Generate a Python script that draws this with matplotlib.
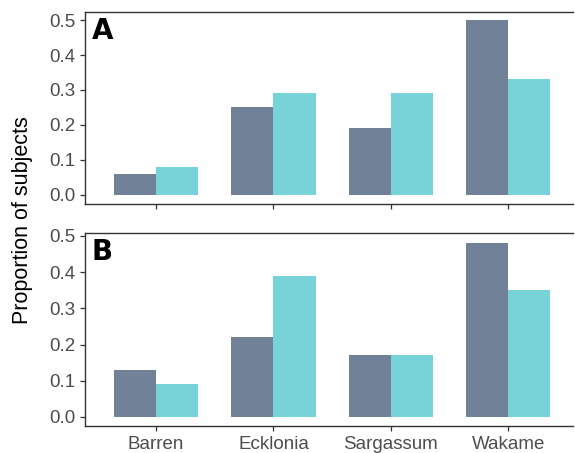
import numpy as np
from matplotlib import pyplot as plt

plt.rcParams['font.family'] = ['Liberation Sans', 'DejaVu Sans']

categories = ['Barren', 'Ecklonia', 'Sargassum', 'Wakame']
panel_a_grey = [0.06, 0.25, 0.19, 0.50]
panel_a_cyan = [0.08, 0.29, 0.29, 0.33]
panel_b_grey = [0.13, 0.22, 0.17, 0.48]
panel_b_cyan = [0.09, 0.39, 0.17, 0.35]

grey = '#708198'
cyan = '#78D3D8'
text_grey = '#4D4D4D'
spine_col = '#333333'

fig = plt.figure(figsize=(5.75, 4.53), dpi=100)
ax_a = fig.add_axes([0.148, 0.5497, 0.849, 0.4238])
ax_b = fig.add_axes([0.148, 0.0596, 0.849, 0.4261])

x = np.arange(len(categories))
w = 0.36


def draw_panel(ax, grey_vals, cyan_vals, letter, ylim):
    ax.bar(x - w / 2, grey_vals, width=w, color=grey)
    ax.bar(x + w / 2, cyan_vals, width=w, color=cyan)
    ax.set_xlim(-0.605, 3.555)
    ax.set_ylim(*ylim)
    ax.set_yticks([0, 0.1, 0.2, 0.3, 0.4, 0.5])
    ax.set_yticklabels(['0.0', '0.1', '0.2', '0.3', '0.4', '0.5'])
    ax.set_xticks(x)
    ax.spines['right'].set_visible(False)
    for s in ['left', 'top', 'bottom']:
        ax.spines[s].set_color(spine_col)
        ax.spines[s].set_linewidth(1.0)
    ax.tick_params(axis='both', length=3.5, width=0.9, color=spine_col,
                   labelsize=13.5, labelcolor=text_grey, pad=3.5)
    ax.text(0.013, 0.975, letter, transform=ax.transAxes, ha='left', va='top',
            fontsize=20, fontweight='heavy', family='DejaVu Sans')


draw_panel(ax_a, panel_a_grey, panel_a_cyan, 'A', (-0.026, 0.523))
draw_panel(ax_b, panel_b_grey, panel_b_cyan, 'B', (-0.025, 0.508))

ax_a.set_xticklabels([])
ax_b.set_xticklabels(categories)

fig.text(0.04, 0.515, 'Proportion of subjects', rotation=90, ha='center',
         va='center', fontsize=15.5, color='black')

plt.savefig('out.png', dpi=100)
